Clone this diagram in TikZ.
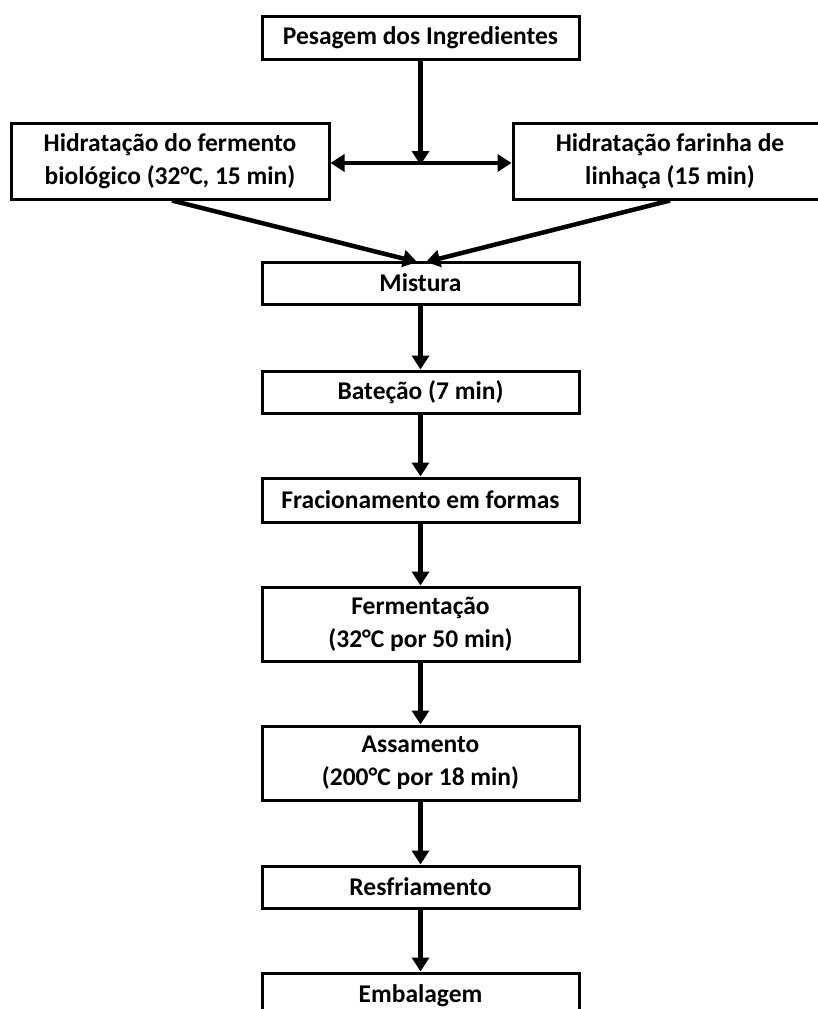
\documentclass[tikz,border=0pt]{standalone}
\usepackage{fontspec}
\setmainfont{Carlito}
\usetikzlibrary{arrows.meta}
\begin{document}
\begin{tikzpicture}[x=1pt,y=-1pt,
  box/.style={draw=black,line width=3pt,fill=white,minimum width=317pt,align=center,
    inner sep=0pt,font=\fontsize{25.5}{33}\selectfont\bfseries},
  arr/.style={line width=4.5pt,-{Triangle[length=14pt,width=17pt]}},
  dbl/.style={line width=4.5pt,{Triangle[length=14pt,width=17pt]}-{Triangle[length=14pt,width=17pt]}}]
\useasboundingbox (0,0) rectangle (818,1009);
\clip (0,0) rectangle (818,1009);
\fill[white] (0,0) rectangle (818,1009);
\node[box,minimum height=43pt] (pes) at (420.5,37.5) {Pesagem dos Ingredientes};
\node[box,minimum width=318pt,minimum height=76pt] (left) at (170,161) {Hidratação do fermento\\biológico (32°C, 15 min)};
\node[box,minimum width=314pt,minimum height=76pt] (right) at (670,161) {Hidratação farinha de\\linhaça (15 min)};
\node[box,minimum height=42pt] (mis) at (420.5,283) {Mistura};
\node[box,minimum height=42pt] (bat) at (420.5,392) {Bateção (7 min)};
\node[box,minimum height=44pt] (fra) at (420.5,500) {Fracionamento em formas};
\node[box,minimum height=74pt] (fer) at (420.5,624) {Fermentação\\(32°C por 50 min)};
\node[box,minimum height=74pt] (ass) at (420.5,763) {Assamento\\(200°C por 18 min)};
\node[box,minimum height=42pt] (res) at (420.5,887) {Resfriamento};
\node[box,minimum height=46pt] (emb) at (420.5,996) {Embalagem};
\coordinate (mid) at (420.5,163);
\coordinate (ml) at (417,262);
\coordinate (mr) at (426,262);
\draw[arr] (pes.south) -- ([yshift=-2pt]mid);
\draw[dbl] (left.east |- mid) -- (right.west |- mid);
\draw[arr] ([xshift=2pt]left.south) -- (ml);
\draw[arr] (right.south) -- (mr);
\draw[arr] (mis.south) -- (bat.north);
\draw[arr] (bat.south) -- (fra.north);
\draw[arr] (fra.south) -- (fer.north);
\draw[arr] (fer.south) -- (ass.north);
\draw[arr] (ass.south) -- (res.north);
\draw[arr] (res.south) -- (emb.north);
\end{tikzpicture}
\end{document}
